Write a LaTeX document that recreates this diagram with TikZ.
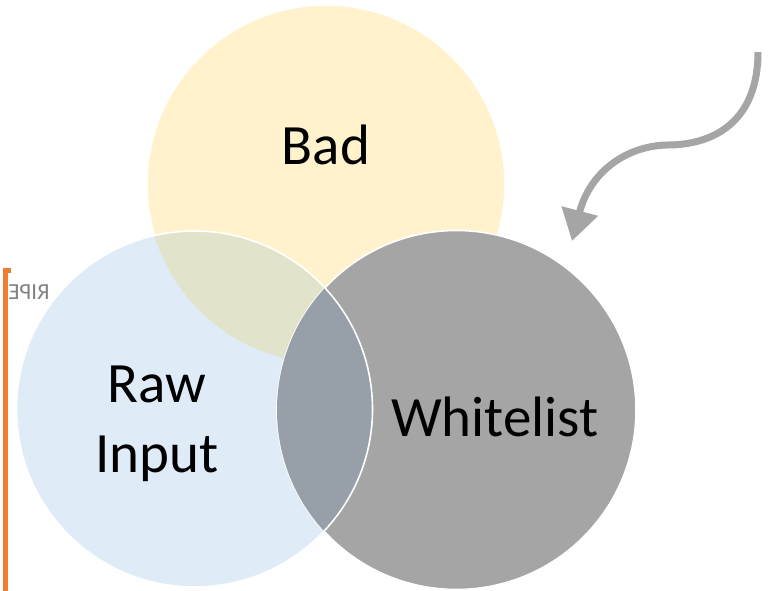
\documentclass[tikz,border=0pt]{standalone}
\usepackage{fontspec}
\setmainfont{Carlito}
\usetikzlibrary{arrows.meta}

\definecolor{badfill}{HTML}{FFF2CC}
\definecolor{rawfill}{HTML}{DFEBF7}
\definecolor{whitefill}{HTML}{A5A5A5}
\definecolor{badraw}{HTML}{E2E3CB}
\definecolor{rawwhite}{HTML}{97A0A9}
\definecolor{ripeorange}{HTML}{ED7D31}

\begin{document}
\begin{tikzpicture}[x=1pt, y=-1pt,
    every node/.style={font=\fontsize{57}{70}\selectfont, align=center},
    ring/.style={draw=white, line width=1.6pt},
    curvearrow/.style={draw=whitefill, line width=7pt, -{Triangle[length=31pt, width=36pt]}}]

    \useasboundingbox (0,0) rectangle (769,590);

    \coordinate (bad) at (326,184);
    \coordinate (raw) at (194.5,409);
    \coordinate (wl) at (456.5,410);

    \fill [badfill] (bad) circle (179);
    \draw [ring] (bad) circle (179);

    \fill [rawfill] (raw) circle (178);
    \begin{scope}
        \clip (raw) circle (178);
        \fill [badraw] (bad) circle (179);
    \end{scope}
    \draw [ring] (raw) circle (178);

    \fill [whitefill] (wl) circle (179.5);
    \draw [ring] (wl) circle (179.5);
    \begin{scope}
        \clip (wl) circle (179.5);
        \fill [rawwhite] (raw) circle (178);
        \draw [ring] (raw) circle (178);
    \end{scope}

    \node [anchor=base] (t1) at (326,164) {Bad};
    \node [anchor=base] (t2) at (495,436) {Whitelist};
    \node (t3) at (157,424) {Raw\\Input};

    \coordinate (a1) at (758,52);
    \coordinate (a2) at (572,241);
    \draw [curvearrow] (a1) .. controls (758,118) and (718,145) .. (667,145)
        .. controls (626,146) and (590,172) .. (a2);

    \draw [ripeorange, line width=5pt] (11,270) -- (5.5,270) -- (5.5,592);
    \node [xscale=-1, text=gray, font=\fontsize{23}{26}\selectfont] (ripe) at (29,292) {RIPE};

\end{tikzpicture}
\end{document}
